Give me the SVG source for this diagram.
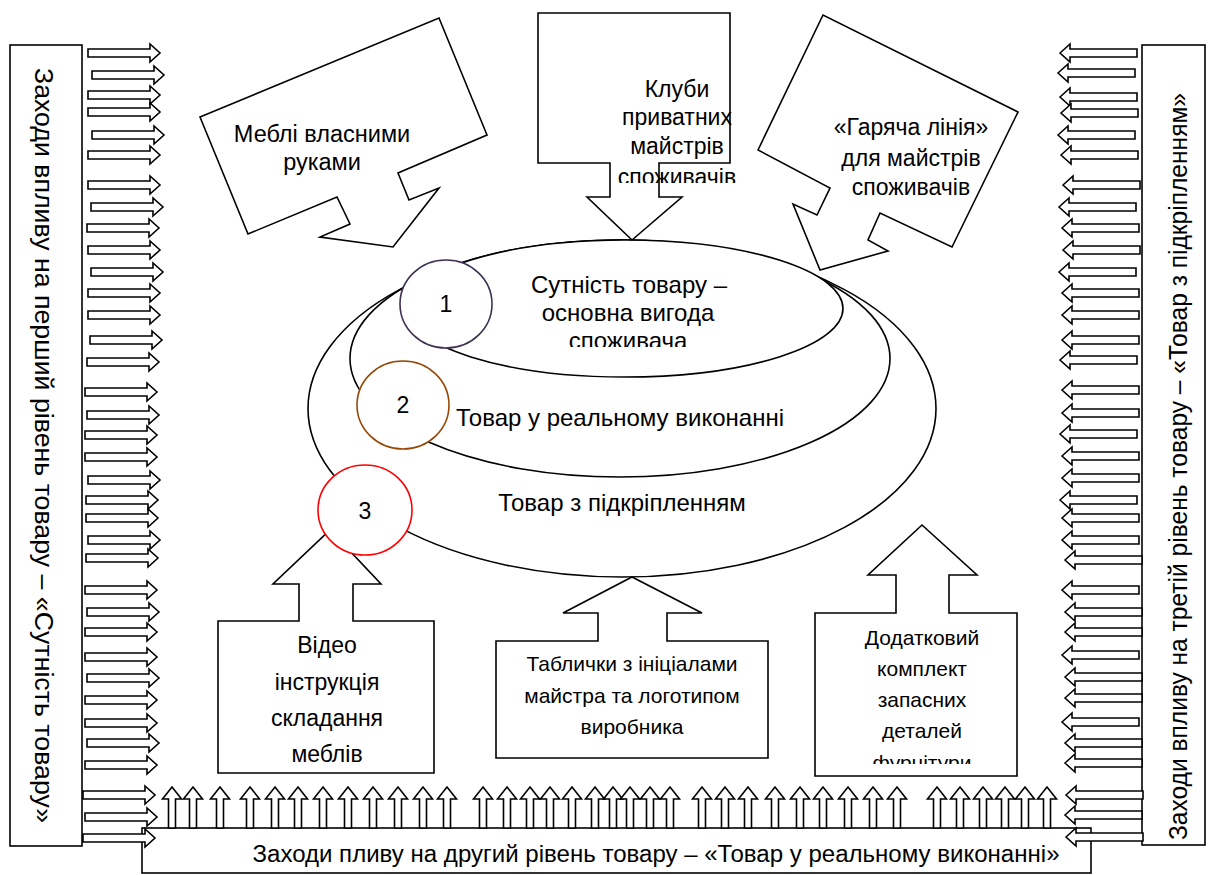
<svg xmlns="http://www.w3.org/2000/svg" xmlns:xlink="http://www.w3.org/1999/xlink" width="1210" height="875" viewBox="0 0 1210 875">
<style>
.s{fill:#fff;stroke:#000;stroke-width:1.6}
.t{font-family:"Liberation Sans",Arial,sans-serif;fill:#000;text-anchor:middle}
</style>
<defs>
<path id="ra" class="s" d="M0,-4 H62 V-9 L72,0 L62,9 V4 H0 Z"/>
<path id="la" class="s" d="M0,0 L10,-9 V-4 H77 V4 H10 V9 Z"/>
<path id="ua" class="s" d="M0,0 L9.5,12 H3.5 V41 H-3.5 V12 H-9.5 Z"/>
<clipPath id="c1"><rect x="500" y="270" width="260" height="77"/></clipPath>
<clipPath id="c2"><rect x="560" y="60" width="240" height="123"/></clipPath>
<clipPath id="c3"><rect x="815" y="613" width="202" height="151"/></clipPath>
</defs>

<g id="left-box">
<rect class="s" x="10" y="45" width="72" height="801"/>
<text class="t" font-size="26" textLength="755" lengthAdjust="spacingAndGlyphs" transform="translate(35,445.5) rotate(90)">Заходи впливу на перший рівень товару – «Сутність товару»</text>
</g>
<g id="right-box">
<rect class="s" x="1142" y="45" width="63" height="800"/>
<text class="t" font-size="25" textLength="747" lengthAdjust="spacingAndGlyphs" transform="translate(1187,466.5) rotate(-90)">Заходи впливу на третій  рівень товару – «Товар з підкріпленням»</text>
</g>
<g id="bottom-box">
<rect class="s" x="142" y="828" width="949" height="45"/>
<text class="t" font-size="23" x="656" y="862" textLength="807" lengthAdjust="spacingAndGlyphs">Заходи пливу на другий рівень товару – «Товар у реальному виконанні»</text>
</g>

<g id="connectors">
<use xlink:href="#ra" x="88" y="53"/><use xlink:href="#ra" x="92" y="75"/><use xlink:href="#ra" x="88" y="95"/><use xlink:href="#ra" x="88" y="112"/>
<use xlink:href="#ra" x="92" y="135"/><use xlink:href="#ra" x="88" y="155"/><use xlink:href="#ra" x="88" y="185"/><use xlink:href="#ra" x="91" y="207"/>
<use xlink:href="#ra" x="87" y="228"/><use xlink:href="#ra" x="88" y="250"/><use xlink:href="#ra" x="91" y="272"/><use xlink:href="#ra" x="88" y="293"/>
<use xlink:href="#ra" x="88" y="315"/><use xlink:href="#ra" x="90" y="340"/><use xlink:href="#ra" x="87" y="362"/><use xlink:href="#ra" x="85" y="392"/>
<use xlink:href="#ra" x="87" y="415"/><use xlink:href="#ra" x="85" y="435"/><use xlink:href="#ra" x="85" y="457"/><use xlink:href="#ra" x="88" y="480"/>
<use xlink:href="#ra" x="86" y="500"/><use xlink:href="#ra" x="86" y="518"/><use xlink:href="#ra" x="88" y="540"/><use xlink:href="#ra" x="86" y="558"/>
<use xlink:href="#ra" x="85" y="590"/><use xlink:href="#ra" x="87" y="612"/><use xlink:href="#ra" x="85" y="632"/><use xlink:href="#ra" x="85" y="657"/>
<use xlink:href="#ra" x="87" y="678"/><use xlink:href="#ra" x="85" y="700"/><use xlink:href="#ra" x="85" y="723"/><use xlink:href="#ra" x="87" y="743"/>
<use xlink:href="#ra" x="85" y="765"/><use xlink:href="#ra" x="83" y="795"/><use xlink:href="#ra" x="85" y="817"/><use xlink:href="#ra" x="83" y="838"/>

<use xlink:href="#la" x="1060" y="53"/><use xlink:href="#la" x="1058" y="73"/><use xlink:href="#la" x="1060" y="97"/><use xlink:href="#la" x="1061" y="113"/>
<use xlink:href="#la" x="1058" y="135"/><use xlink:href="#la" x="1061" y="155"/><use xlink:href="#la" x="1063" y="185"/><use xlink:href="#la" x="1059" y="207"/>
<use xlink:href="#la" x="1062" y="228"/><use xlink:href="#la" x="1063" y="250"/><use xlink:href="#la" x="1059" y="272"/><use xlink:href="#la" x="1062" y="293"/>
<use xlink:href="#la" x="1062" y="315"/><use xlink:href="#la" x="1062" y="340"/><use xlink:href="#la" x="1060" y="360"/><use xlink:href="#la" x="1062" y="390"/>
<use xlink:href="#la" x="1062" y="413"/><use xlink:href="#la" x="1060" y="434"/><use xlink:href="#la" x="1062" y="456"/><use xlink:href="#la" x="1062" y="478"/>
<use xlink:href="#la" x="1060" y="500"/><use xlink:href="#la" x="1062" y="518"/><use xlink:href="#la" x="1062" y="540"/><use xlink:href="#la" x="1065" y="560"/>
<use xlink:href="#la" x="1062" y="590"/><use xlink:href="#la" x="1065" y="612"/><use xlink:href="#la" x="1065" y="632"/><use xlink:href="#la" x="1062" y="655"/>
<use xlink:href="#la" x="1065" y="677"/><use xlink:href="#la" x="1065" y="698"/><use xlink:href="#la" x="1062" y="722"/><use xlink:href="#la" x="1065" y="743"/>
<use xlink:href="#la" x="1065" y="763"/><use xlink:href="#la" x="1066" y="795"/><use xlink:href="#la" x="1065" y="815"/><use xlink:href="#la" x="1066" y="837"/>

<use xlink:href="#ua" x="172" y="787"/><use xlink:href="#ua" x="193" y="787"/><use xlink:href="#ua" x="220" y="787"/>
<use xlink:href="#ua" x="250" y="787"/><use xlink:href="#ua" x="275" y="787"/><use xlink:href="#ua" x="298" y="787"/><use xlink:href="#ua" x="323" y="787"/>
<use xlink:href="#ua" x="348" y="787"/><use xlink:href="#ua" x="373" y="787"/><use xlink:href="#ua" x="398" y="787"/><use xlink:href="#ua" x="423" y="787"/>
<use xlink:href="#ua" x="447" y="787"/><use xlink:href="#ua" x="483" y="787"/><use xlink:href="#ua" x="507" y="787"/><use xlink:href="#ua" x="530" y="787"/>
<use xlink:href="#ua" x="550" y="787"/><use xlink:href="#ua" x="572" y="787"/><use xlink:href="#ua" x="595" y="787"/><use xlink:href="#ua" x="613" y="787"/>
<use xlink:href="#ua" x="630" y="787"/><use xlink:href="#ua" x="650" y="787"/><use xlink:href="#ua" x="670" y="787"/><use xlink:href="#ua" x="702" y="787"/>
<use xlink:href="#ua" x="725" y="787"/><use xlink:href="#ua" x="748" y="787"/><use xlink:href="#ua" x="775" y="787"/><use xlink:href="#ua" x="800" y="787"/>
<use xlink:href="#ua" x="823" y="787"/><use xlink:href="#ua" x="848" y="787"/><use xlink:href="#ua" x="873" y="787"/><use xlink:href="#ua" x="897" y="787"/>
<use xlink:href="#ua" x="937" y="787"/><use xlink:href="#ua" x="960" y="787"/><use xlink:href="#ua" x="983" y="787"/><use xlink:href="#ua" x="1005" y="787"/>
<use xlink:href="#ua" x="1025" y="787"/><use xlink:href="#ua" x="1047" y="787"/>
</g>

<g id="level3">
<ellipse class="s" cx="622" cy="408.5" rx="314" ry="168.5"/>
<text class="t" font-size="24" x="622" y="511">Товар з підкріпленням</text>
</g>
<g id="level2">
<ellipse class="s" cx="620" cy="358.5" rx="270" ry="118.5"/>
<text class="t" font-size="24" x="620" y="426">Товар у реальному виконанні</text>
</g>
<g id="level1">
<ellipse class="s" cx="625" cy="308.5" rx="218" ry="68.5"/>
<text class="t" font-size="24" x="629" y="293">Сутність товару –</text>
<text class="t" font-size="24" x="628" y="321">основна вигода</text>
<text class="t" font-size="24" x="628" y="349" clip-path="url(#c1)">споживача</text>
</g>

<g id="callout-furniture">
<polygon class="s" points="200,117 439,18 487,135 398,173 409,200 439,188 393,247 320,237 350,224 337,197 248,234"/>
<text class="t" font-size="23.5" x="322" y="142">Меблі власними</text>
<text class="t" font-size="23.5" x="322" y="170">руками</text>
</g>
<g id="callout-clubs">
<polygon class="s" points="538,13 730,13 730,163 659,163 659,197 682,197 632,240 587,197 610,197 610,163 538,163"/>
<text class="t" font-size="23" x="677" y="97">Клуби</text>
<text class="t" font-size="23" x="677" y="125">приватних</text>
<text class="t" font-size="23" x="677" y="154">майстрів</text>
<text class="t" font-size="23" x="677" y="185" clip-path="url(#c2)">споживачів</text>
</g>
<g id="callout-hotline">
<polygon class="s" points="758,150 823,15 1018,112 952,247 880,213 868,240 888,251 820,270 793,204 817,215 830,188"/>
<text class="t" font-size="23" x="911" y="135">«Гаряча лінія»</text>
<text class="t" font-size="23" x="911" y="166">для майстрів</text>
<text class="t" font-size="23" x="911" y="195">споживачів</text>
</g>

<g id="box-video">
<polygon class="s" points="218,621 299,621 299,584 273,584 330,530 381,584 353,584 353,621 434,621 434,773 218,773"/>
<text class="t" font-size="23" x="327" y="653">Відео</text>
<text class="t" font-size="23" x="327" y="690">інструкція</text>
<text class="t" font-size="23" x="327" y="726">складання</text>
<text class="t" font-size="23" x="327" y="762">меблів</text>
</g>
<g id="box-plates">
<polygon class="s" points="496,641 598,641 598,613 563,613 632,577 702,613 667,613 667,641 768,641 768,758 496,758"/>
<text class="t" font-size="21" x="632" y="671">Таблички з ініціалами</text>
<text class="t" font-size="21" x="632" y="703">майстра та логотипом</text>
<text class="t" font-size="21" x="632" y="734">виробника</text>
</g>
<g id="box-parts">
<polygon class="s" points="815,613 896,613 896,575 868,575 922,525 977,575 949,575 949,613 1017,613 1017,776 815,776"/>
<text class="t" font-size="21" x="922" y="645">Додатковий</text>
<text class="t" font-size="21" x="922" y="676">комплект</text>
<text class="t" font-size="21" x="922" y="707">запасних</text>
<text class="t" font-size="21" x="922" y="738">деталей</text>
<text class="t" font-size="21" x="922" y="770" clip-path="url(#c3)">фурнітури</text>
</g>

<g id="circle-1">
<ellipse cx="446" cy="304" rx="46" ry="44" fill="#fff" stroke="#3f3151" stroke-width="1.6"/>
<text class="t" font-size="23" x="446" y="312">1</text>
</g>
<g id="circle-2">
<ellipse cx="403" cy="405" rx="46" ry="44" fill="#fff" stroke="#984806" stroke-width="1.6"/>
<text class="t" font-size="23" x="403" y="413">2</text>
</g>
<g id="circle-3">
<ellipse cx="365" cy="510" rx="47" ry="45" fill="#fff" stroke="#ff0000" stroke-width="1.6"/>
<text class="t" font-size="23" x="365" y="519">3</text>
</g>
</svg>
